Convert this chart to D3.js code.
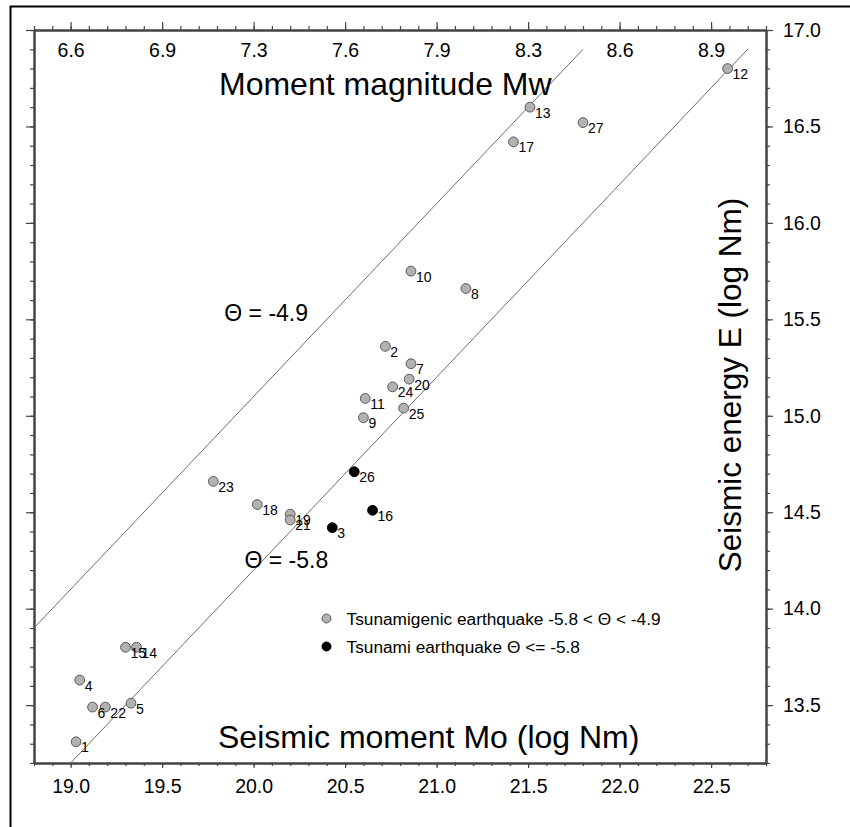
<!DOCTYPE html>
<html>
<head>
<meta charset="utf-8">
<script src="https://cdn.jsdelivr.net/npm/d3@7"></script>
<style>
  html, body { margin: 0; padding: 0; background: #fff; }
  svg { display: block; font-family: "Liberation Sans", Arial, Helvetica, sans-serif; }
</style>
</head>
<body>
<svg id="chart" width="850" height="827"></svg>
<script>
// Seismic moment (log Nm) tick positions and the matching moment magnitudes
const moTicks = [19.0, 19.5, 20.0, 20.5, 21.0, 21.5, 22.0, 22.5];
const mwLabels = ["6.6", "6.9", "7.3", "7.6", "7.9", "8.3", "8.6", "8.9"];
const energyTicks = [13.5, 14.0, 14.5, 15.0, 15.5, 16.0, 16.5, 17.0];

// Earthquakes: id, log seismic moment, log seismic energy, class
const quakeId = [1, 2, 3, 4, 5, 6, 7, 8, 9, 10, 11, 12, 13, 14, 15, 16, 17, 18, 19, 20, 21, 22, 23, 24, 25, 26, 27];
const quakeMo = [19.03, 20.72, 20.43, 19.05, 19.33, 19.12, 20.86, 21.16, 20.60, 20.86, 20.61, 22.59, 21.51, 19.36, 19.30, 20.65, 21.42, 20.02, 20.20, 20.85, 20.20, 19.19, 19.78, 20.76, 20.82, 20.55, 21.80];
const quakeE = [13.31, 15.36, 14.42, 13.63, 13.51, 13.49, 15.27, 15.66, 14.99, 15.75, 15.09, 16.80, 16.60, 13.80, 13.80, 14.51, 16.42, 14.54, 14.49, 15.19, 14.46, 13.49, 14.66, 15.15, 15.04, 14.71, 16.52];
const quakeKind = ["g", "g", "t", "g", "g", "g", "g", "g", "g", "g", "g", "g", "g", "g", "g", "t", "g", "g", "g", "g", "g", "g", "g", "g", "g", "t", "g"];

// Reference lines of constant Theta = log10(E/Mo)
const thetaValues = [-4.9, -5.8];
const thetaMoStart = [18.8, 19.0];
const thetaMoEnd = [21.8, 22.7];
const thetaLabels = ["Θ = -4.9", "Θ = -5.8"];
const thetaLabelAt = [[19.84, 15.49], [19.95, 14.21]]; // Mo, E anchor of each label

const legendText = ["Tsunamigenic earthquake -5.8 < Θ < -4.9", "Tsunami earthquake Θ <= -5.8"];
const legendKind = ["g", "t"];

const svg = d3.select("#chart");
const W = 850, H = 827;
const plot = { left: 34, right: 766, top: 30, bottom: 763 };

const x = d3.scaleLinear().domain([18.8, 22.8]).range([plot.left, plot.right]);
const y = d3.scaleLinear().domain([13.2, 17.0]).range([plot.bottom, plot.top]);

const fillFor = k => (k === "t" ? "#000" : "#b2b2b2");
const strokeFor = k => (k === "t" ? "#000" : "#5a5a5a");

// outer frame (top and left edges)
svg.append("line").attr("x1", 10).attr("x2", W).attr("y1", 6.5).attr("y2", 6.5)
  .attr("stroke", "#000").attr("stroke-width", 2);
svg.append("line").attr("x1", 10.5).attr("x2", 10.5).attr("y1", 6).attr("y2", H)
  .attr("stroke", "#000").attr("stroke-width", 2);

const minorMo = d3.range(18.8, 22.80001, 0.1).map(v => +v.toFixed(1));
const minorE = d3.range(13.2, 17.00001, 0.1).map(v => +v.toFixed(1));

function styleAxis(g, width) {
  g.selectAll("path.domain").attr("stroke", "#444").attr("stroke-width", width || 2);
  g.selectAll(".tick line").attr("stroke", "#444").attr("stroke-width", 1.2);
}

// minor ticks
const minorGroups = [
  [d3.axisBottom(x).tickValues(minorMo).tickSize(3), `translate(0,${plot.bottom})`],
  [d3.axisTop(x).tickValues(minorMo).tickSize(4), `translate(0,${plot.top})`],
  [d3.axisLeft(y).tickValues(minorE).tickSize(4), `translate(${plot.left},0)`],
  [d3.axisRight(y).tickValues(minorE).tickSize(4), `translate(${plot.right},0)`]
];
minorGroups.forEach(([ax, tr]) => {
  const g = svg.append("g").attr("transform", tr).call(ax.tickFormat("").tickSizeOuter(0));
  styleAxis(g);
});

// major ticks and labels
const gBottom = svg.append("g").attr("transform", `translate(0,${plot.bottom})`)
  .call(d3.axisBottom(x).tickValues(moTicks).tickSize(5).tickSizeOuter(0).tickPadding(11).tickFormat(d3.format(".1f")));
const gTop = svg.append("g").attr("transform", `translate(0,${plot.top})`)
  .call(d3.axisTop(x).tickValues(moTicks).tickSize(8).tickSizeOuter(0)
    .tickFormat((d, i) => mwLabels[i]));
const gLeft = svg.append("g").attr("transform", `translate(${plot.left},0)`)
  .call(d3.axisLeft(y).tickValues(energyTicks).tickSize(8).tickSizeOuter(0).tickFormat(""));
const gRight = svg.append("g").attr("transform", `translate(${plot.right},0)`)
  .call(d3.axisRight(y).tickValues(energyTicks).tickSize(7).tickSizeOuter(0).tickPadding(10).tickFormat(d3.format(".1f")));
[gBottom, gTop, gLeft, gRight].forEach(g => {
  styleAxis(g);
  g.selectAll("text").attr("fill", "#000").attr("font-size", 19.5)
    .attr("font-family", "'Liberation Sans', Arial, sans-serif");
});
// Mw labels sit inside the frame, just under the top axis
gTop.selectAll(".tick text").attr("y", 26.5).attr("dy", null);

// Theta reference lines
const thetaG = svg.append("g");
thetaValues.forEach((t, i) => {
  thetaG.append("line")
    .attr("x1", x(thetaMoStart[i])).attr("y1", y(thetaMoStart[i] + t))
    .attr("x2", x(thetaMoEnd[i])).attr("y2", y(thetaMoEnd[i] + t))
    .attr("stroke", "#6e6e6e").attr("stroke-width", 1);
  thetaG.append("text")
    .attr("x", x(thetaLabelAt[i][0])).attr("y", y(thetaLabelAt[i][1]))
    .attr("font-size", 23).attr("fill", "#000")
    .text(thetaLabels[i]);
});

// axis titles
svg.append("text").attr("x", 219).attr("y", 95).attr("font-size", 32).attr("fill", "#000")
  .text("Moment magnitude Mw");
svg.append("text").attr("x", 218).attr("y", 748).attr("font-size", 32).attr("fill", "#000")
  .text("Seismic moment Mo (log Nm)");
svg.append("text").attr("transform", "translate(741,385) rotate(-90)")
  .attr("text-anchor", "middle").attr("font-size", 31.5).attr("fill", "#000")
  .text("Seismic energy E (log Nm)");

// earthquakes
const quakes = quakeId.map((id, i) => ({ id, mo: quakeMo[i], e: quakeE[i], kind: quakeKind[i] }));
const pts = svg.append("g");
pts.selectAll("circle").data(quakes).join("circle")
  .attr("cx", d => x(d.mo)).attr("cy", d => y(d.e)).attr("r", 4.9)
  .attr("fill", d => fillFor(d.kind)).attr("stroke", d => strokeFor(d.kind)).attr("stroke-width", 1);
pts.selectAll("text").data(quakes).join("text")
  .attr("x", d => x(d.mo) + 5).attr("y", d => y(d.e) + 10.5)
  .attr("font-size", 14).attr("fill", "#000")
  .text(d => d.id);

// legend
const legend = svg.append("g");
legendText.forEach((txt, i) => {
  const cy = 618.5 + i * 28;
  legend.append("circle").attr("cx", 326.5).attr("cy", cy).attr("r", 4.5)
    .attr("fill", fillFor(legendKind[i])).attr("stroke", strokeFor(legendKind[i])).attr("stroke-width", 1);
  legend.append("text").attr("x", 346.5).attr("y", cy + 6).attr("font-size", 17.3).attr("fill", "#000")
    .text(txt);
});
</script>
</body>
</html>
